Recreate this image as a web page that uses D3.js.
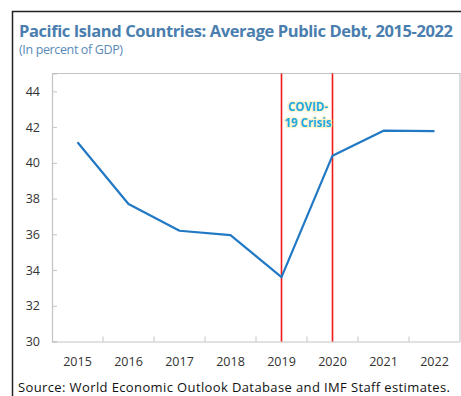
<!DOCTYPE html>
<html>
<head>
<meta charset="utf-8">
<script src="https://cdn.jsdelivr.net/npm/d3@7"></script>
<style>
  html, body { margin: 0; padding: 0; background: #fff; }
  svg { display: block; font-family: "Open Sans", "Noto Sans", sans-serif; }
</style>
</head>
<body>
<svg id="chart" width="461" height="396"></svg>
<script>
// Average public debt of Pacific Island Countries, percent of GDP
const years = ["2015", "2016", "2017", "2018", "2019", "2020", "2021", "2022"];
const debt = [41.15, 37.7, 36.2, 35.95, 33.6, 40.4, 41.8, 41.78];
const yTicks = [30, 32, 34, 36, 38, 40, 42, 44];
const crisisYears = ["2019", "2020"];
const crisisLabel = ["COVID-", "19 Crisis"];

const titleText = "Pacific Island Countries: Average Public Debt, 2015-2022";
const subtitleText = "(In percent of GDP)";
const sourceText = "Source: World Economic Outlook Database and IMF Staff estimates.";

const svg = d3.select("#chart");
const W = 461, H = 396;
const plot = { left: 52, right: 460, top: 73.5, bottom: 341.5 };

// Adjust letter spacing so a text line spans the given width
function fitWidth(sel, width) {
  const node = sel.node();
  const n = sel.text().length;
  const natural = node.getComputedTextLength();
  if (n > 1) {
    sel.attr("letter-spacing", ((width - natural) / (n - 1)).toFixed(3));
  }
  return sel;
}

// Outer frame (left and top edges)
svg.append("path")
  .attr("d", `M12.5,${H} V11.5 H${W}`)
  .attr("fill", "none")
  .attr("stroke", "#222")
  .attr("stroke-width", 1.5);

// Title and subtitle
const title = svg.append("text")
  .attr("x", 19).attr("y", 36.5)
  .attr("font-size", 16.5).attr("font-weight", 700)
  .attr("fill", "#4a7eae")
  .text(titleText);
fitWidth(title, 434);

const subtitle = svg.append("text")
  .attr("x", 19).attr("y", 54)
  .attr("font-size", 12.5)
  .attr("fill", "#5a8ab8")
  .text(subtitleText);
fitWidth(subtitle, 104);

// Scales
const x = d3.scaleBand().domain(years).range([plot.left, plot.right]);
const xc = d => x(d) + x.bandwidth() / 2;
const y = d3.scaleLinear().domain([30, 45]).range([plot.bottom, plot.top]);

const axisColor = "#c4c4c4";
const labelColor = "#333";

// Plot frame: top and right edges
svg.append("path")
  .attr("d", `M${plot.left},${plot.top} H${plot.right} V${plot.bottom}`)
  .attr("fill", "none").attr("stroke", axisColor).attr("stroke-width", 1.2);

// Y axis with inward ticks
const yAxis = svg.append("g")
  .attr("transform", `translate(${plot.left},0)`)
  .call(d3.axisLeft(y).tickValues(yTicks).tickSize(-5).tickPadding(12).tickFormat(d3.format("d")));
yAxis.select(".domain").attr("stroke", axisColor).attr("stroke-width", 1.2);
yAxis.selectAll(".tick line").attr("stroke", axisColor);
yAxis.selectAll(".tick text")
  .attr("font-size", 12.5).attr("fill", labelColor)
  .attr("font-family", "'Open Sans', 'Noto Sans', sans-serif");

// X axis: labels centred in each band, tick marks on the band boundaries
const xAxis = svg.append("g")
  .attr("transform", `translate(0,${plot.bottom})`)
  .call(d3.axisBottom(x).tickSize(0).tickPadding(16));
xAxis.select(".domain").attr("stroke", axisColor).attr("stroke-width", 1.2);
xAxis.selectAll(".tick text")
  .attr("font-size", 12.5).attr("fill", labelColor)
  .attr("font-family", "'Open Sans', 'Noto Sans', sans-serif");
xAxis.selectAll(".boundary")
  .data(years.slice(1))
  .join("line")
  .attr("class", "boundary")
  .attr("x1", d => x(d)).attr("x2", d => x(d))
  .attr("y1", 0).attr("y2", -5)
  .attr("stroke", axisColor);

// Crisis markers
svg.selectAll(".crisis")
  .data(crisisYears)
  .join("line")
  .attr("class", "crisis")
  .attr("x1", d => xc(d)).attr("x2", d => xc(d))
  .attr("y1", plot.top).attr("y2", plot.bottom)
  .attr("stroke", "#f01a1a").attr("stroke-width", 1.6);

const labelX = (xc(crisisYears[0]) + xc(crisisYears[1])) / 2 + 1;
svg.append("text")
  .attr("text-anchor", "middle")
  .attr("font-size", 11.5).attr("font-weight", 700)
  .attr("fill", "#1ea9e4")
  .attr("stroke", "#fff3c8").attr("stroke-width", 2.5)
  .attr("stroke-linejoin", "round")
  .attr("paint-order", "stroke")
  .selectAll("tspan")
  .data(crisisLabel)
  .join("tspan")
  .attr("x", labelX)
  .attr("y", (d, i) => 111 + i * 16)
  .text(d => d);

// Debt line
const line = d3.line().x((d, i) => xc(years[i])).y(d => y(d));
svg.append("path")
  .datum(debt)
  .attr("d", line)
  .attr("fill", "none")
  .attr("stroke", "#2178c4")
  .attr("stroke-width", 2.2)
  .attr("stroke-linejoin", "round");

// Source note
const source = svg.append("text")
  .attr("x", 18).attr("y", 392)
  .attr("font-size", 13)
  .attr("fill", "#111")
  .text(sourceText);
fitWidth(source, 432);
</script>
</body>
</html>
